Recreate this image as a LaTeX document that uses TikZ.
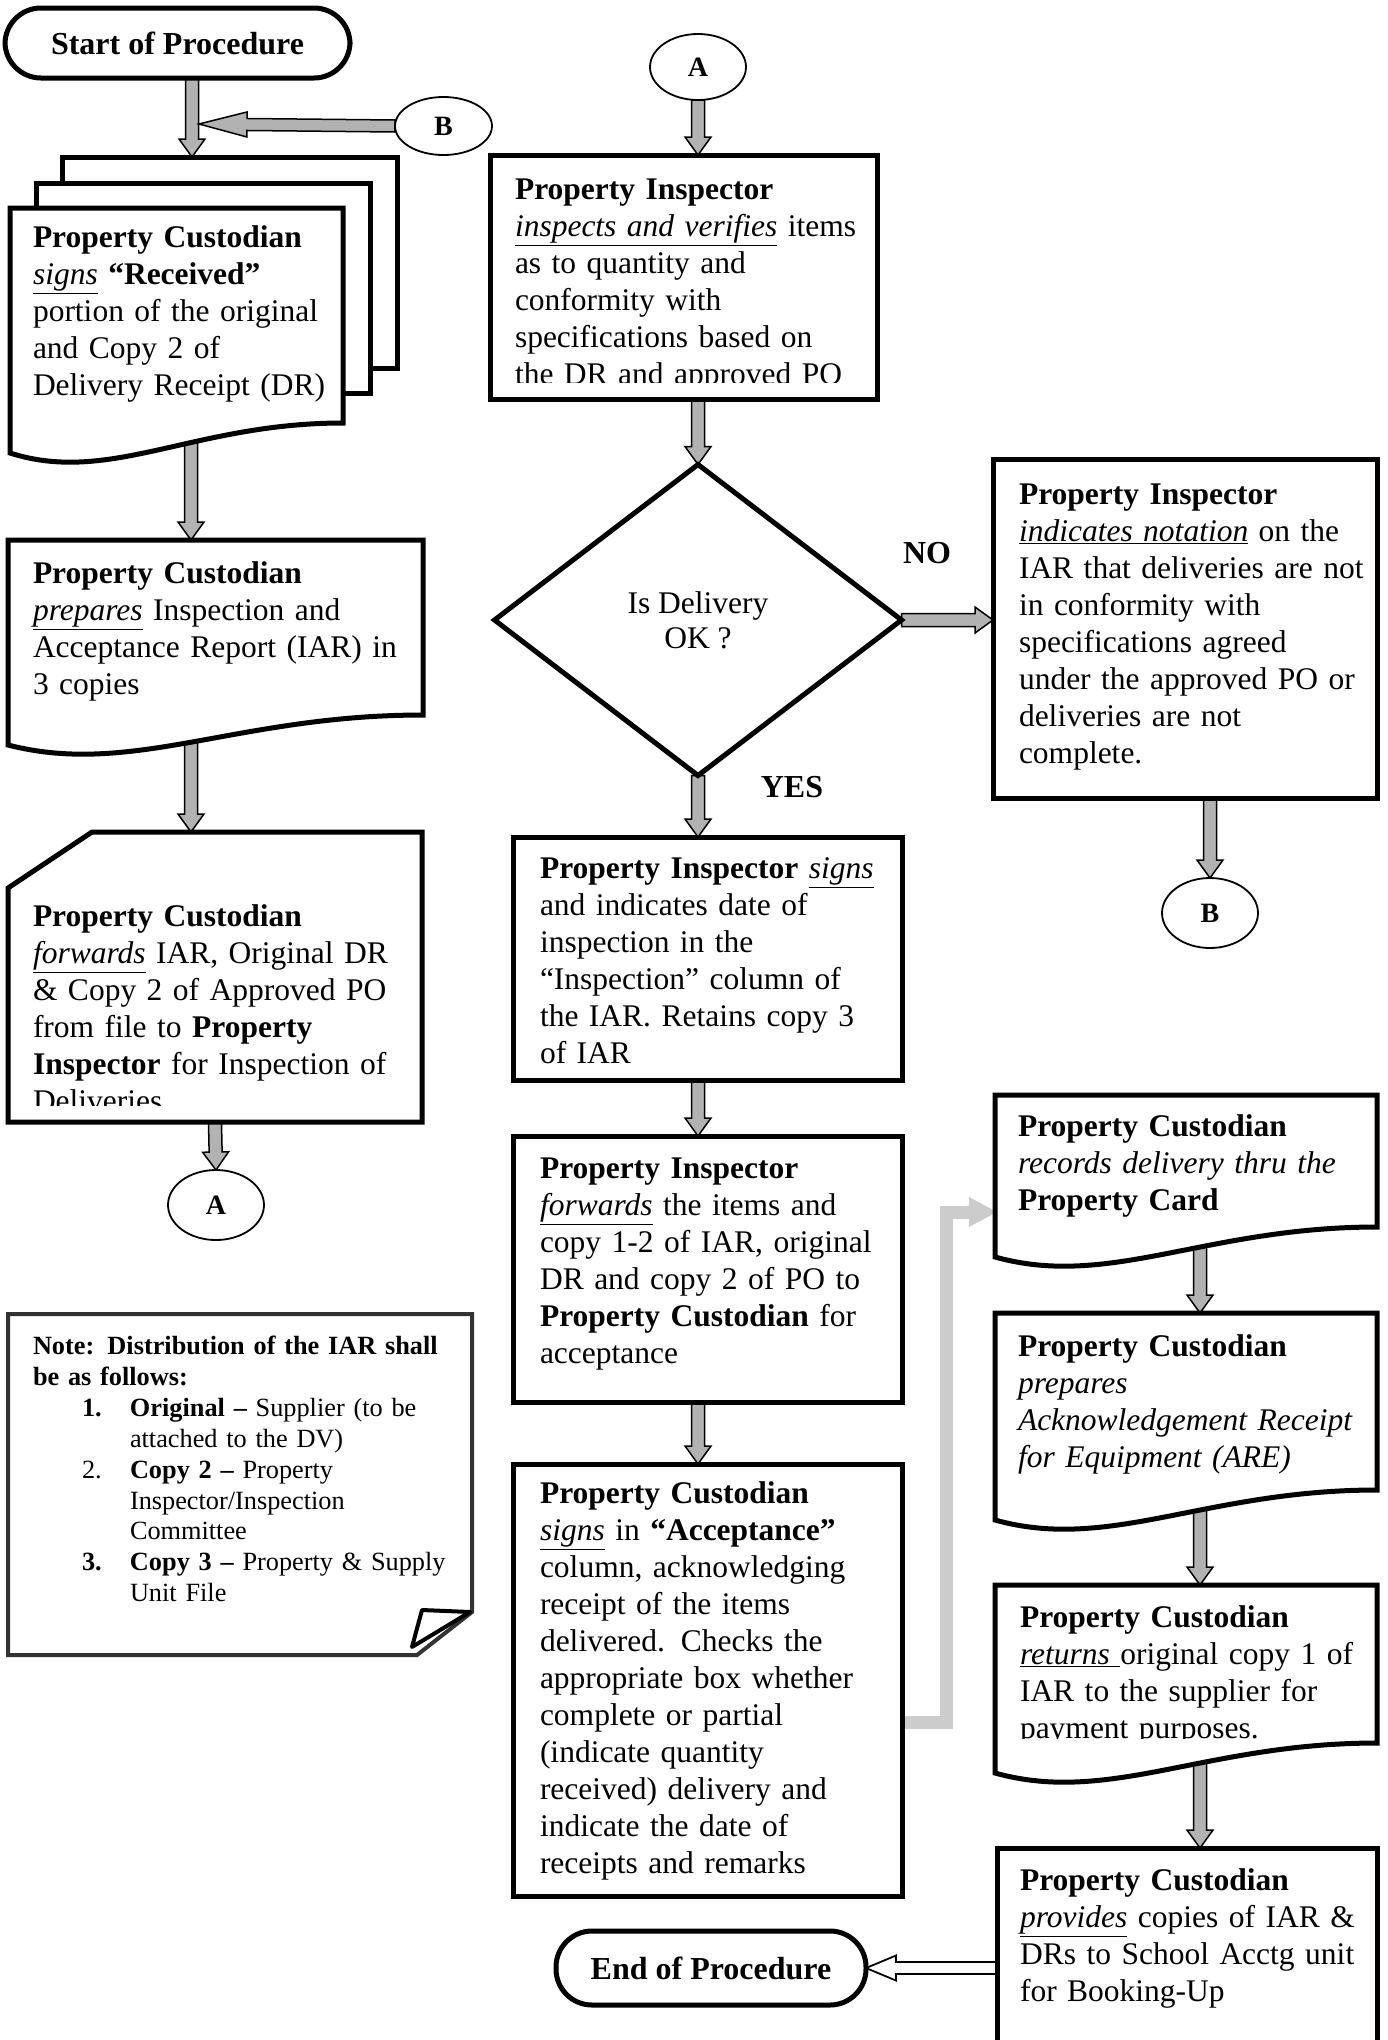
\documentclass[tikz,border=0pt]{standalone}
\usepackage{fontspec}
\setmainfont{Liberation Serif}
\usetikzlibrary{calc,shapes.geometric}
\pgfdeclarelayer{bg}
\pgfsetlayers{bg,main}
\newcommand\mainsz{\fontsize{31.5pt}{37pt}\selectfont}
\newcommand\notesz{\fontsize{26.3pt}{30.9pt}\selectfont}
\newcommand\connsz{\fontsize{28pt}{30pt}\selectfont\bfseries}
\newcommand\uit[1]{\underline{\textit{#1}}}
% block arrow: [style]{from}{to}{shaft half width}{head half width}{head length}
\newcommand\blockarrow[6][fat]{%
  \begin{pgfonlayer}{bg}
  \coordinate (baS) at (#2);
  \coordinate (baE) at (#3);
  \coordinate (baH) at ($(baE)!#6!(baS)$);
  \filldraw[#1] ($(baS)!#4!90:(baE)$) -- ($(baH)!#4!-90:(baS)$) -- ($(baH)!#5!-90:(baS)$) -- (baE) -- ($(baH)!#5!90:(baS)$) -- ($(baH)!#4!90:(baS)$) -- ($(baS)!#4!-90:(baE)$) -- cycle;
  \end{pgfonlayer}}
% document shape drawn round a ghost node
\newcommand\docshape[1]{%
  \draw[boxline] (#1.north west) -- (#1.north east) -- (#1.south east)
   .. controls ($(#1.south east)!0.45!(#1.south west)$) and ($(#1.south west)!0.3!(#1.south east)+(0,62)$) .. ($(#1.south west)+(0,30)$) -- cycle;}
\tikzset{
  every node/.style={inner sep=0pt, outer sep=0pt},
  boxline/.style={draw=black, line width=5pt, fill=white, line join=miter},
  boxnode/.style={rectangle, boxline},
  ghost/.style={rectangle, draw=none, fill=none},
  txt/.style={anchor=north west, align=left, text width=380pt, font=\mainsz},
  notetxt/.style={anchor=north west, align=left, text width=440pt, font=\notesz},
  conn/.style={ellipse, draw=black, line width=1.8pt, fill=white, font=\connsz},
  term/.style={rectangle, draw=black, line width=5pt, rounded corners=36pt, fill=white, font=\fontsize{32pt}{36pt}\selectfont\bfseries},
  fat/.style={fill=black!30, draw=black, line width=1.5pt, line join=miter},
  hollow/.style={fill=white, draw=black, line width=1.8pt, line join=miter},
  faint/.style={fill=black!20, draw=none},
  faintline/.style={draw=black!20, line width=13pt, line join=miter},
  lbl/.style={font=\fontsize{32pt}{36pt}\selectfont\bfseries},
}
\begin{document}
\begin{tikzpicture}[x=1pt,y=-1pt]
\useasboundingbox (0,0) rectangle (1387,2040);
\begin{pgfonlayer}{bg}
\fill[white] (0,0) rectangle (1387,2040);
\end{pgfonlayer}

% ---------------- left column ----------------
\node[term, minimum width=345pt, minimum height=70pt] (start) at (177.5,43) {Start of Procedure};
\node[conn, minimum width=97pt, minimum height=58pt] (b1) at (443.5,126) {B};
\coordinate (bmerge) at (199,124);

\node[boxnode, minimum width=335pt, minimum height=211pt] (docback) at (229.5,262.5) {};
\node[boxnode, minimum width=334pt, minimum height=210pt] (docmid) at (203,288) {};
\node[ghost, minimum width=333pt, minimum height=215pt] (doc1) at (176.5,315.5) {};
\docshape{doc1}
\node[txt] (doc1t) at ($(doc1.north west)+(23,18)$) {\textbf{Property Custodian}\\
\uit{signs} \textbf{“Received”}\\
portion of the original\\
and Copy 2 of\\
Delivery Receipt (DR)};

\node[ghost, minimum width=415pt, minimum height=175pt] (pc2) at (215.5,627.5) {};
\docshape{pc2}
\node[txt] (pc2t) at ($(pc2.north west)+(25,22)$) {\textbf{Property Custodian}\\
\uit{prepares} Inspection and\\
Acceptance Report (IAR) in\\
3 copies};

\node[ghost, minimum width=414pt, minimum height=290pt] (pc3) at (215,977) {};
\draw[boxline] ($(pc3.north west)+(84,0)$) -- (pc3.north east) -- (pc3.south east) -- (pc3.south west) -- ($(pc3.north west)+(0,56)$) -- cycle;
\begin{scope}
\clip (8,832) rectangle (422,1105);
\node[txt] (pc3t) at ($(pc3.north west)+(25,73)$) {\textbf{Property Custodian}\\
\uit{forwards} IAR, Original DR\\
\& Copy 2 of Approved PO\\
from file to \textbf{Property}\\
\textbf{Inspector} for Inspection of\\
Deliveries};
\end{scope}

\node[conn, minimum width=96pt, minimum height=70pt] (a2) at (216,1205) {A};

\node[ghost, minimum width=464pt, minimum height=341pt] (note) at (240,1484.5) {};
\draw[boxline, draw=black!80, line width=4pt] (note.north west) -- (note.north east) -- ($(note.north east)+(0,298)$) -- ($(note.south west)+(409,0)$) -- (note.south west) -- cycle;
\draw[draw=black, line width=4pt, fill=white, line join=round] ($(note.north east)+(-50,296)$) -- ($(note.north east)+(-2,298)$) -- ($(note.south west)+(404,-8)$) -- cycle;
\node[notetxt] (notet) at ($(note.north west)+(25,22)$) {\textbf{Note: Distribution of the IAR shall}\\
\textbf{be as follows:}\\
\hspace*{49pt}\makebox[48pt][l]{\textbf{1.}}\textbf{Original –} Supplier (to be\\
\hspace*{97pt}attached to the DV)\\
\hspace*{49pt}\makebox[48pt][l]{2.}\textbf{Copy 2 –} Property\\
\hspace*{97pt}Inspector/Inspection\\
\hspace*{97pt}Committee\\
\hspace*{49pt}\makebox[48pt][l]{\textbf{3.}}\textbf{Copy 3 –} Property \& Supply\\
\hspace*{97pt}Unit File};

% ---------------- middle column ----------------
\node[conn, minimum width=96pt, minimum height=66pt] (a1) at (698,67) {A};

\node[boxnode, minimum width=387pt, minimum height=244pt] (pi1) at (683.5,277) {};
\begin{scope}
\clip (490,155) rectangle (877,382);
\node[txt] (pi1t) at ($(pi1.north west)+(25,24)$) {\textbf{Property Inspector}\\
\uit{inspects and verifies} items\\
as to quantity and\\
conformity with\\
specifications based on\\
the DR and approved PO};
\end{scope}

\node[diamond, draw=black, line width=5pt, fill=white, minimum width=407pt, minimum height=311pt, align=center, font=\fontsize{31.5pt}{35pt}\selectfont] (dec) at (698,620) {Is Delivery\\OK ?};
\node[lbl] (nolbl) at (927,553) {NO};
\node[lbl] (yeslbl) at (792,787) {YES};

\node[boxnode, minimum width=389pt, minimum height=243pt] (pi2) at (707.5,958.5) {};
\node[txt] (pi2t) at ($(pi2.north west)+(27,21)$) {\textbf{Property Inspector} \uit{signs}\\
and indicates date of\\
inspection in the\\
“Inspection” column of\\
the IAR. Retains copy 3\\
of IAR};

\node[boxnode, minimum width=389pt, minimum height=266pt] (pi3) at (707.5,1269) {};
\node[txt] (pi3t) at ($(pi3.north west)+(27,22)$) {\textbf{Property Inspector}\\
\uit{forwards} the items and\\
copy 1-2 of IAR, original\\
DR and copy 2 of PO to\\
\textbf{Property Custodian} for\\
acceptance};

\node[boxnode, minimum width=389pt, minimum height=432pt] (pc4) at (707.5,1680) {};
\node[txt] (pc4t) at ($(pc4.north west)+(27,18)$) {\textbf{Property Custodian}\\
\uit{signs} in \textbf{“Acceptance”}\\
column, acknowledging\\
receipt of the items\\
delivered. Checks the\\
appropriate box whether\\
complete or partial\\
(indicate quantity\\
received) delivery and\\
indicate the date of\\
receipts and remarks};

\node[term, minimum width=310pt, minimum height=74pt] (end) at (711,1968) {End of Procedure};

% ---------------- right column ----------------
\node[boxnode, minimum width=384pt, minimum height=339pt] (nobox) at (1185,628.5) {};
\node[txt] (noboxt) at ($(nobox.north west)+(26,25)$) {\textbf{Property Inspector}\\
\uit{indicates notation} on the\\
IAR that deliveries are not\\
in conformity with\\
specifications agreed\\
under the approved PO or\\
deliveries are not\\
complete.};

\node[conn, minimum width=96pt, minimum height=70pt] (b2) at (1210,913) {B};

\node[ghost, minimum width=382pt, minimum height=132pt] (pc5) at (1186,1161) {};
\docshape{pc5}
\node[txt] (pc5t) at ($(pc5.north west)+(23,20)$) {\textbf{Property Custodian}\\
\textit{records delivery thru the}\\
\textbf{Property Card}};

\node[ghost, minimum width=382pt, minimum height=177pt] (pc6) at (1186,1401.5) {};
\docshape{pc6}
\node[txt] (pc6t) at ($(pc6.north west)+(23,22)$) {\textbf{Property Custodian}\\
\textit{prepares}\\
\textit{Acknowledgement Receipt}\\
\textit{for Equipment (ARE)}};

\node[ghost, minimum width=382pt, minimum height=158pt] (pc7) at (1186,1664) {};
\docshape{pc7}
\begin{scope}
\clip (995,1585) rectangle (1377,1738);
\node[txt] (pc7t) at ($(pc7.north west)+(25,21)$) {\textbf{Property Custodian}\\
\uit{returns }original copy 1 of\\
IAR to the supplier for\\
payment purposes.};
\end{scope}

\node[boxnode, minimum width=380pt, minimum height=194pt] (pc8) at (1187,1945) {};
\node[txt] (pc8t) at ($(pc8.north west)+(23,21)$) {\textbf{Property Custodian}\\
\uit{provides} copies of IAR \&\\
DRs to School Acctg unit\\
for Booking-Up};

% ---------------- connectors ----------------
\blockarrow{$(start.south)+(14.5,0)$}{$(docback.north west)+(130,0)$}{6.5pt}{13pt}{18pt}
\blockarrow{b1.west}{bmerge}{6pt}{12.5pt}{48pt}
\blockarrow{$(doc1.south)+(14.5,0)$}{$(pc2.north)+(-24.5,0)$}{6.5pt}{13pt}{18pt}
\blockarrow{$(pc2.south)+(-24.5,0)$}{$(pc3.north)+(-24,0)$}{6.5pt}{13pt}{18pt}
\blockarrow{pc3.south}{a2.north}{6.5pt}{13pt}{18pt}
\blockarrow{a1.south}{a1.south |- pi1.north}{6.5pt}{13pt}{18pt}
\blockarrow{dec.north |- pi1.south}{dec.north}{6.5pt}{13pt}{18pt}
\blockarrow{dec.east}{nobox.west |- dec.east}{6.5pt}{13pt}{18pt}
\blockarrow{b2.north |- nobox.south}{b2.north}{6.5pt}{13pt}{18pt}
\blockarrow{dec.south}{dec.south |- pi2.north}{6.5pt}{13pt}{18pt}
\blockarrow{dec.south |- pi2.south}{dec.south |- pi3.north}{6.5pt}{13pt}{18pt}
\blockarrow{dec.south |- pi3.south}{dec.south |- pc4.north}{6.5pt}{13pt}{18pt}
\blockarrow{$(pc5.south)+(14,0)$}{$(pc6.north)+(14,0)$}{6.5pt}{13pt}{18pt}
\blockarrow{$(pc6.south)+(14,0)$}{$(pc7.north)+(14,0)$}{6.5pt}{13pt}{18pt}
\blockarrow{$(pc7.south)+(14,0)$}{$(pc8.north)+(13,0)$}{6.5pt}{13pt}{18pt}
\blockarrow[hollow]{pc8.west |- end.east}{end.east}{6pt}{12.5pt}{30pt}

\coordinate (dA) at ($(pc4.east)+(0,42)$);
\coordinate (dB) at ($(dA)+(44,0)$);
\coordinate (dE) at ($(pc5.west)+(2,51)$);
\coordinate (dC) at (dB |- dE);
\begin{pgfonlayer}{bg}
\draw[faintline] (dA) -- (dB) -- (dC) -- ($(dE)+(-28,0)$);
\end{pgfonlayer}
\blockarrow[faint]{$(dE)+(-30,0)$}{dE}{6.5pt}{15pt}{28pt}
\end{tikzpicture}
\end{document}
